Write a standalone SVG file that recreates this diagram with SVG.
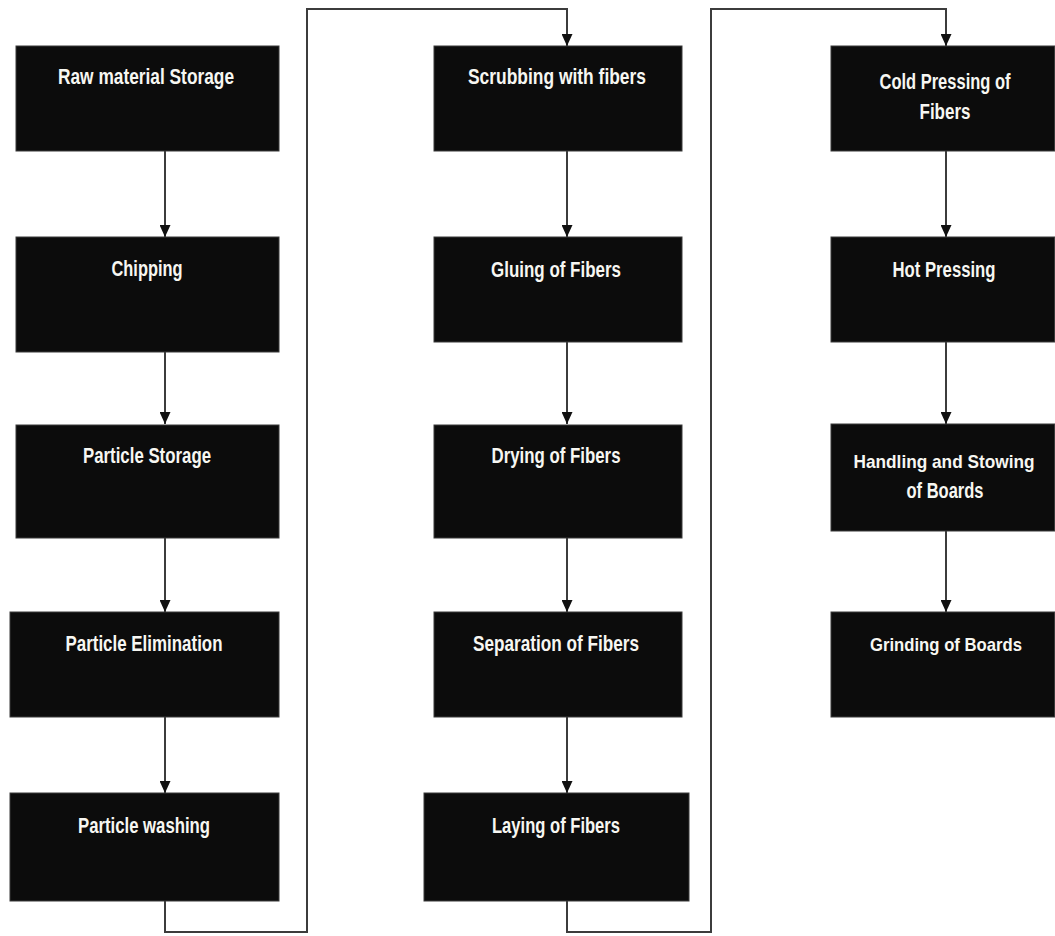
<svg xmlns="http://www.w3.org/2000/svg" width="1055" height="936" viewBox="0 0 1055 936">
<defs>
<marker id="arr" viewBox="0 0 12 11" refX="12" refY="5.5" markerWidth="12" markerHeight="11" markerUnits="userSpaceOnUse" orient="auto">
<path d="M0,0 L12,5.5 L0,11 z" fill="#111"/>
</marker>
<style>
.box{fill:#0c0c0c;stroke:#3a3a3a;stroke-width:1}
.lbl{fill:#f7f7f2;font-family:"Liberation Sans Narrow","Liberation Sans",Arial,sans-serif;font-weight:bold;font-size:22px;text-anchor:middle}
.sm{font-size:19px}
.con{fill:none;stroke:#3c3c3c;stroke-width:2}
</style>
</defs>
<rect width="1055" height="936" fill="#ffffff"/>
<g id="connectors">
<path class="con" d="M165,151 V237" marker-end="url(#arr)"/>
<path class="con" d="M165,352 V424" marker-end="url(#arr)"/>
<path class="con" d="M165,538 V612" marker-end="url(#arr)"/>
<path class="con" d="M165,717 V793" marker-end="url(#arr)"/>
<path class="con" d="M165,901 V932 H307 V9 H567 V46" marker-end="url(#arr)"/>
<path class="con" d="M567,151 V237" marker-end="url(#arr)"/>
<path class="con" d="M567,342 V424" marker-end="url(#arr)"/>
<path class="con" d="M567,538 V612" marker-end="url(#arr)"/>
<path class="con" d="M567,717 V793" marker-end="url(#arr)"/>
<path class="con" d="M567,901 V932 H711 V9 H946 V46" marker-end="url(#arr)"/>
<path class="con" d="M946,151 V237" marker-end="url(#arr)"/>
<path class="con" d="M946,342 V424" marker-end="url(#arr)"/>
<path class="con" d="M946,531 V612" marker-end="url(#arr)"/>
</g>
<g id="n1"><rect class="box" x="16" y="46" width="263" height="105"/><text class="lbl" x="146" y="84" textLength="176" lengthAdjust="spacingAndGlyphs">Raw material Storage</text></g>
<g id="n2"><rect class="box" x="16" y="237" width="263" height="115"/><text class="lbl" x="147" y="276" textLength="71" lengthAdjust="spacingAndGlyphs">Chipping</text></g>
<g id="n3"><rect class="box" x="16" y="425" width="263" height="113"/><text class="lbl" x="147" y="463" textLength="128" lengthAdjust="spacingAndGlyphs">Particle Storage</text></g>
<g id="n4"><rect class="box" x="10" y="612" width="269" height="105"/><text class="lbl" x="144" y="651" textLength="157" lengthAdjust="spacingAndGlyphs">Particle Elimination</text></g>
<g id="n5"><rect class="box" x="10" y="793" width="269" height="108"/><text class="lbl" x="144" y="833" textLength="132" lengthAdjust="spacingAndGlyphs">Particle washing</text></g>
<g id="n6"><rect class="box" x="434" y="46" width="248" height="105"/><text class="lbl" x="557" y="84" textLength="178" lengthAdjust="spacingAndGlyphs">Scrubbing with fibers</text></g>
<g id="n7"><rect class="box" x="434" y="237" width="248" height="105"/><text class="lbl" x="556" y="277" textLength="130" lengthAdjust="spacingAndGlyphs">Gluing of Fibers</text></g>
<g id="n8"><rect class="box" x="434" y="425" width="248" height="113"/><text class="lbl" x="556" y="463" textLength="129" lengthAdjust="spacingAndGlyphs">Drying of Fibers</text></g>
<g id="n9"><rect class="box" x="434" y="612" width="248" height="105"/><text class="lbl" x="556" y="651" textLength="166" lengthAdjust="spacingAndGlyphs">Separation of Fibers</text></g>
<g id="n10"><rect class="box" x="424" y="793" width="265" height="108"/><text class="lbl" x="556" y="833" textLength="128" lengthAdjust="spacingAndGlyphs">Laying of Fibers</text></g>
<g id="n11"><rect class="box" x="831" y="46" width="223.5" height="105"/><text class="lbl" x="945" y="89" textLength="131" lengthAdjust="spacingAndGlyphs">Cold Pressing of</text><text class="lbl" x="945" y="119" textLength="51" lengthAdjust="spacingAndGlyphs">Fibers</text></g>
<g id="n12"><rect class="box" x="831" y="237" width="223.5" height="105"/><text class="lbl" x="944" y="277" textLength="103" lengthAdjust="spacingAndGlyphs">Hot Pressing</text></g>
<g id="n13"><rect class="box" x="831" y="424" width="223.5" height="107"/><text class="lbl sm" x="944" y="468" textLength="181" lengthAdjust="spacingAndGlyphs">Handling and Stowing</text><text class="lbl" x="945" y="498" textLength="77" lengthAdjust="spacingAndGlyphs">of Boards</text></g>
<g id="n14"><rect class="box" x="831" y="612" width="223.5" height="105"/><text class="lbl sm" x="946" y="651" textLength="152" lengthAdjust="spacingAndGlyphs">Grinding of Boards</text></g>
</svg>
